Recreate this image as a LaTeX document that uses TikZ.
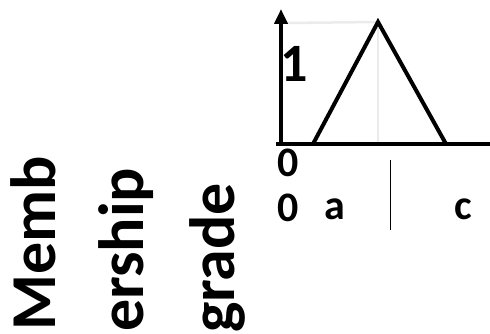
\documentclass[tikz,border=0pt]{standalone}
\usepackage{fontspec}
\setmainfont{Carlito}
\usetikzlibrary{arrows.meta}

\begin{document}
\begin{tikzpicture}[
  x=1pt,y=-1pt,
  lbl/.style={inner sep=0pt,anchor=base west,font=\fontsize{42}{42}\selectfont\bfseries},
  vlbl/.style={inner sep=0pt,anchor=base west,rotate=90,font=\fontsize{64}{64}\selectfont\bfseries},
  ax/.style={line width=4pt},
  guide/.style={line width=2.5pt,black!8},
  tri/.style={line width=4pt,line join=miter}]
\useasboundingbox (0,0) rectangle (490,334);
% axes and triangle corners
\coordinate (O) at (281,144);
\coordinate (Ytop) at (281,9);
\coordinate (Xstart) at (276,144);
\coordinate (Xend) at (490,144);
\coordinate (A) at (313,144);
\coordinate (B) at (378,22);
\coordinate (C) at (446,144);
\coordinate (Bfoot) at (378,144);
\coordinate (Bleft) at (286,23);
\coordinate (tickTop) at (390,160);
\coordinate (tickBot) at (390,230);
% light guides
\draw[guide] (Bleft) -- (B);
\draw[guide] (B) -- (Bfoot);
% axes
\draw[ax,-{Triangle[length=15pt,width=13pt]}] (O) -- (Ytop);
\draw[ax] (Xstart) -- (Xend);
\draw[tri] (A) -- (B) -- (C);
\draw[line width=1pt] (tickTop) -- (tickBot);
% labels
\node[lbl,font=\fontsize{54}{54}\selectfont\bfseries] (one) at (280,82) {1};
\node[lbl] (zeroA) at (277,176) {0};
\node[lbl] (zeroB) at (277,221) {0};
\node[lbl] (a) at (324,219) {a};
\node[lbl] (c) at (454,219) {c};
\node[vlbl] (memb) at (55,331) {Memb};
\node[vlbl] (ership) at (143,332) {ership};
\node[vlbl] (grade) at (234,333) {grade};
\end{tikzpicture}
\end{document}
